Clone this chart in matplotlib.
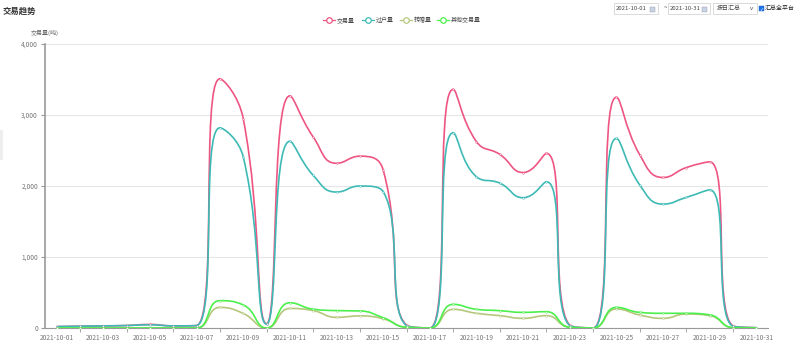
import numpy as np
import matplotlib
matplotlib.use("Agg")
import matplotlib.pyplot as plt
from matplotlib.path import Path
from matplotlib.patches import PathPatch, Rectangle

plt.rcParams['font.family'] = ['Noto Sans CJK SC', 'DejaVu Sans']

dates = [f"2021-10-{d:02d}" for d in range(1, 32)]

trade = [20, 25, 30, 35, 50, 30, 35, 3510, 2950, 60, 3270, 2690, 2320, 2420, 2225, 40,
         0, 3360, 2625, 2445, 2190, 2460, 40, 0, 3250, 2440, 2120, 2260, 2340, 30, 5]
transfer = [20, 25, 30, 35, 45, 30, 35, 2820, 2410, 55, 2630, 2150, 1915, 2000, 1920, 35,
            0, 2750, 2130, 2040, 1835, 2060, 35, 0, 2670, 2015, 1745, 1840, 1945, 25, 5]
gift = [0, 0, 0, 0, 0, 0, 0, 290, 205, 0, 275, 245, 150, 170, 130, 10,
        0, 263, 207, 174, 136, 174, 10, 0, 268, 183, 136, 197, 175, 5, 0]
other = [0, 0, 0, 0, 0, 0, 0, 385, 325, 0, 355, 265, 245, 240, 145, 10,
         0, 333, 263, 244, 220, 230, 10, 0, 290, 220, 207, 207, 185, 5, 0]

series = [("交易量", trade, "#ee5583"),
          ("过户量", transfer, "#3dbab5"),
          ("转赠量", gift, "#b5c77c"),
          ("其他交易量", other, "#4cf04c")]

# pixel scale used for echarts-style smoothing
XS, YS = 23.33, 0.071


def smooth_path(xs, ys, smooth=0.5):
    px = np.asarray(xs, float) * XS
    py = np.asarray(ys, float) * YS
    n = len(px)
    cp_in = [(px[0], py[0])] * n
    cp_out = [(px[-1], py[-1])] * n
    for i in range(n):
        x, y = px[i], py[i]
        if 0 < i < n - 1:
            prx, pry = px[i - 1], py[i - 1]
            nx, ny = px[i + 1], py[i + 1]
            vx, vy = nx - prx, ny - pry
            lp = np.hypot(x - prx, y - pry)
            ln = np.hypot(nx - x, ny - y)
            if lp == 0 or ln == 0:
                cp_in[i] = (x, y)
                cp_out[i] = (x, y)
                continue
            r = ln / (ln + lp)
            c1x = x + vx * smooth * r
            c1y = y + vy * smooth * r
            c1x = min(c1x, max(nx, x)); c1x = max(c1x, min(nx, x))
            c1y = min(c1y, max(ny, y)); c1y = max(c1y, min(ny, y))
            vx, vy = c1x - x, c1y - y
            c0x = x - vx * lp / ln
            c0y = y - vy * lp / ln
            c0x = min(c0x, max(prx, x)); c0x = max(c0x, min(prx, x))
            c0y = min(c0y, max(pry, y)); c0y = max(c0y, min(pry, y))
            vx, vy = x - c0x, y - c0y
            c1x = x + vx * ln / lp
            c1y = y + vy * ln / lp
            cp_in[i] = (c0x, c0y)
            cp_out[i] = (c1x, c1y)
        else:
            cp_in[i] = (x, y)
            cp_out[i] = (x, y)
    verts = [(px[0], py[0])]
    codes = [Path.MOVETO]
    for i in range(1, n):
        verts += [cp_out[i - 1], cp_in[i], (px[i], py[i])]
        codes += [Path.CURVE4] * 3
    verts = [(vx / XS, vy / YS) for vx, vy in verts]
    return Path(verts, codes)


fig = plt.figure(figsize=(8, 3.49), dpi=100)
ax = fig.add_axes([45 / 800, 21 / 349, 723 / 800, 284 / 349])

x = np.arange(len(dates))
for name, vals, color in series:
    ax.add_patch(PathPatch(smooth_path(x, vals), facecolor="none", edgecolor=color, lw=1.2, zorder=3))
    ax.plot(x, vals, ls="none", marker="o", ms=1.3, mfc="white", mec=color, mew=0.4,
            alpha=0.8, zorder=4)

ax.set_xlim(-0.5, len(dates) - 0.5)
ax.set_ylim(0, 4000)
ax.set_yticks([0, 1000, 2000, 3000, 4000])
ax.set_yticklabels([f"{v:,}" for v in [0, 1000, 2000, 3000, 4000]])
ax.set_xticks(x[::2])
ax.set_xticklabels(dates[::2])
ax.set_xticks(x[1::2], minor=True)
ax.tick_params(axis="x", which="major", length=0, pad=4, labelsize=4.8, labelcolor="#777")
ax.tick_params(axis="x", which="minor", length=3, color="#999")
ax.tick_params(axis="y", length=3, color="#999", pad=2, labelsize=4.8, labelcolor="#777")
ax.grid(axis="y", color="#e6e6e6", lw=0.8)
ax.set_axisbelow(True)
for s in ["top", "right"]:
    ax.spines[s].set_visible(False)
ax.spines["left"].set_color("#999")
ax.spines["left"].set_linewidth(1.2)
ax.spines["bottom"].set_color("#999")

# title and axis name
fig.text(3 / 800, 1 - 11 / 349, "交易趋势", fontsize=6, color="#333", va="center", fontweight="bold")
fig.text(45 / 800, 1 - 33 / 349, "交易量(吨)", fontsize=4.3, color="#666", va="center", ha="center")

# legend
leg_x = [323, 362, 400, 437]
for (name, vals, color), lx in zip(series, leg_x):
    ly = 1 - 20 / 349
    fig.add_artist(plt.Line2D([lx / 800, (lx + 12) / 800], [ly, ly], color=color, lw=0.9,
                              transform=fig.transFigure))
    fig.add_artist(plt.Line2D([(lx + 6) / 800], [ly], marker="o", ms=4, mfc="white", mec=color,
                              mew=0.9, transform=fig.transFigure))
    fig.text((lx + 14) / 800, ly, name, fontsize=4.3, color="#444", va="center")

# top-right controls
def box(x0, x1, y0, y1, ec="#ccc"):
    fig.add_artist(Rectangle((x0 / 800, 1 - y1 / 349), (x1 - x0) / 800, (y1 - y0) / 349,
                             transform=fig.transFigure, fc="white", ec=ec, lw=0.5))

box(614, 658, 3, 14)
fig.text(616 / 800, 1 - 8.5 / 349, "2021-10-01", fontsize=4.3, color="#444", va="center")
fig.add_artist(Rectangle((650 / 800, 1 - 11.5 / 349), 5 / 800, 5 / 349, transform=fig.transFigure,
                         fc="#c8d4e4", ec="#99a", lw=0.3))
fig.text(665 / 800, 1 - 8.5 / 349, "~", fontsize=4.5, color="#444", va="center", ha="center")
box(668, 710, 3, 14)
fig.text(670 / 800, 1 - 8.5 / 349, "2021-10-31", fontsize=4.3, color="#444", va="center")
fig.add_artist(Rectangle((702 / 800, 1 - 11.5 / 349), 5 / 800, 5 / 349, transform=fig.transFigure,
                         fc="#c8d4e4", ec="#99a", lw=0.3))
box(713, 757, 3, 14)
fig.text(717 / 800, 1 - 8.5 / 349, "按日汇总", fontsize=4.3, color="#444", va="center")
fig.text(751 / 800, 1 - 8.5 / 349, "v", fontsize=4.3, color="#444", va="center", ha="center")
fig.add_artist(Rectangle((759 / 800, 1 - 11 / 349), 5 / 800, 5.5 / 349, transform=fig.transFigure,
                         fc="#1a73e8", ec="#1a5fc8", lw=0.3))
fig.text(761.5 / 800, 1 - 8.3 / 349, "✓", fontsize=3.5, color="white", va="center", ha="center",
         family=["DejaVu Sans"])
fig.text(764.5 / 800, 1 - 8.5 / 349, "汇总全平台", fontsize=4.3, color="#222", va="center")

# faint element at left edge
fig.add_artist(Rectangle((0, 1 - 160 / 349), 3 / 800, 30 / 349, transform=fig.transFigure,
                         fc="#eeeeee", ec="none"))

fig.savefig("out.png", dpi=100)
